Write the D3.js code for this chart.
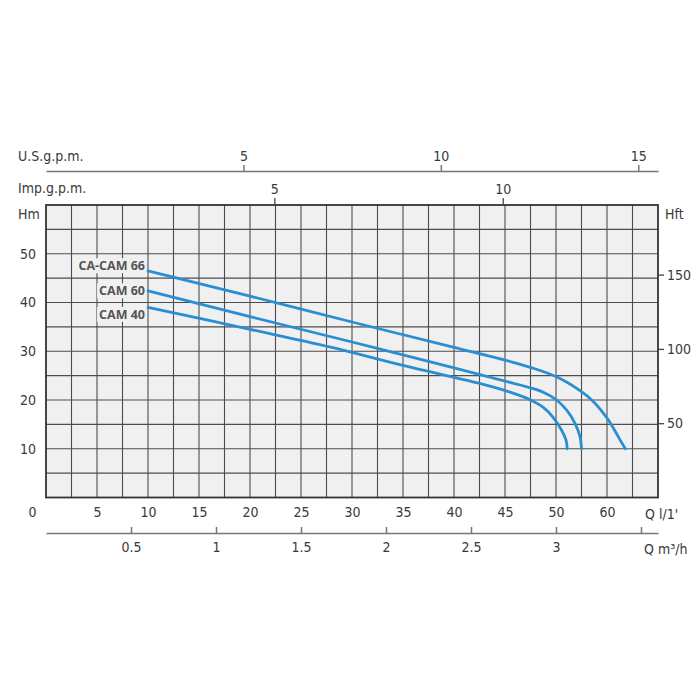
<!DOCTYPE html>
<html>
<head>
<meta charset="utf-8">
<script src="https://cdn.jsdelivr.net/npm/d3@7"></script>
<style>
  html, body { margin: 0; padding: 0; background: #fff; }
  svg { display: block; }
  .tk text, .lbl { font-family: "DejaVu Sans Condensed", "DejaVu Sans", sans-serif; font-stretch: condensed; font-size: 14px; fill: #3a3a3a; }
  .curvelbl { font-family: "Open Sans", "DejaVu Sans", sans-serif; font-weight: 700; font-size: 12.5px; fill: #555; }
</style>
</head>
<body>
<svg id="chart" width="700" height="700"></svg>
<script>
// ---------------- data ----------------
const seriesNames = ["CA-CAM 66", "CAM 60", "CAM 40"];
// [Q l/min, H m]
const camA66 = [[10,46.5],[20,41.3],[30,36.0],[40,30.8],[45.5,27.9],[47.5,26.7],[50,24.8],[52.5,21.7],[53.65,19.7],[55,16.3],[55.8,13.6],[56.45,11.2],[56.8,10]];
const cam60  = [[10,42.4],[20,37.1],[30,31.9],[40,26.6],[45.5,23.6],[47.5,22.5],[48.75,21.6],[50,20.1],[51.05,17.9],[51.86,15.2],[52.35,12.5],[52.5,10]];
const cam40  = [[10,39.0],[20,34.5],[27.8,30.9],[35,27.1],[42.5,23.4],[45.5,21.6],[47.5,20.0],[48.75,18.5],[49.7,16.5],[50.55,13.8],[50.98,11.8],[51.1,10]];
const seriesValues = [camA66, cam60, cam40];

const qTickValues = [0,5,10,15,20,25,30,35,40,45,50,55];
const qTickLabels = ["0","5","10","15","20","25","30","35","40","45","50","60"];
const m3hTickValues = [0.5,1,1.5,2,2.5,3,3.5];
const m3hTickLabels = ["0.5","1","1.5","2","2.5","3",""];
const usTicks = [5,10,15];
const impTicks = [5,10];
const hmTicks = [10,20,30,40,50];
const hftTicks = [50,100,150];

// ---------------- layout ----------------
const L = 46, R = 658, T = 205, B = 497.5;
const svg = d3.select("#chart");

const x = d3.scaleLinear().domain([0, 60]).range([L, R]);            // l/min
const y = d3.scaleLinear().domain([0, 60]).range([B, T]);            // m
const yFt = d3.scaleLinear().domain([0, 60 / 0.3048]).range([B, T]); // ft
const xUS = d3.scaleLinear().domain([0, 15.5]).range([L, R]);
const xImp = d3.scaleLinear().domain([0, 13.4]).range([L, R]);
const xM3 = d3.scaleLinear().domain([0, 3.6]).range([L, R]);

// plot background
svg.append("rect").attr("x", L).attr("y", T).attr("width", R - L).attr("height", B - T)
  .attr("fill", "#f0f0f0");

// grid
const grid = svg.append("g").attr("stroke", "#4d4d4d").attr("stroke-width", 1.1);
grid.selectAll("line.v").data(d3.range(2.5, 60, 2.5)).join("line")
  .attr("x1", d => x(d)).attr("x2", d => x(d)).attr("y1", T).attr("y2", B);
grid.selectAll("line.h").data(d3.range(5, 60, 5)).join("line")
  .attr("x1", L).attr("x2", R).attr("y1", d => y(d)).attr("y2", d => y(d));

// frame
svg.append("rect").attr("x", L).attr("y", T).attr("width", R - L).attr("height", B - T)
  .attr("fill", "none").attr("stroke", "#333").attr("stroke-width", 1.8);

function styleAxis(g, stroke, width) {
  g.attr("class", "tk");
  g.attr("font-family", null).attr("font-size", null);
  g.selectAll("line").attr("stroke", stroke).attr("stroke-width", width);
  g.selectAll("path.domain").attr("stroke", stroke).attr("stroke-width", width);
}

// US gpm axis
const gUS = svg.append("g").attr("transform", `translate(0,171)`)
  .call(d3.axisTop(xUS).tickValues(usTicks).tickSize(6).tickSizeOuter(0).tickPadding(4));
styleAxis(gUS, "#777", 1.5);

// Imp gpm axis
const gImp = svg.append("g").attr("transform", `translate(0,${T})`)
  .call(d3.axisTop(xImp).tickValues(impTicks).tickSize(7).tickSizeOuter(0).tickPadding(4));
styleAxis(gImp, "#444", 1.3);
gImp.select("path.domain").remove();

// left Hm axis
const gHm = svg.append("g").attr("transform", `translate(${L},0)`)
  .call(d3.axisLeft(y).tickValues(hmTicks).tickSize(0).tickPadding(10));
styleAxis(gHm, "#333", 1);
gHm.select("path.domain").remove();

// right Hft axis
const gFt = svg.append("g").attr("transform", `translate(${R},0)`)
  .call(d3.axisRight(yFt).tickValues(hftTicks).tickSize(6).tickPadding(3));
styleAxis(gFt, "#444", 1.3);
gFt.select("path.domain").remove();

// bottom Q l/min axis
const gQ = svg.append("g").attr("transform", `translate(0,${B})`)
  .call(d3.axisBottom(x).tickValues(qTickValues).tickFormat((d, i) => qTickLabels[i]).tickSize(0).tickPadding(10));
styleAxis(gQ, "#333", 1);
gQ.select("path.domain").remove();
gQ.selectAll(".tick text").filter(d => d === 0).attr("dx", -14);

// bottom m3/h axis
const gM3 = svg.append("g").attr("transform", `translate(0,533)`)
  .call(d3.axisBottom(xM3).tickValues(m3hTickValues).tickFormat((d, i) => m3hTickLabels[i]).tickSize(-6).tickSizeOuter(0).tickPadding(9));
styleAxis(gM3, "#777", 1.5);

// unit labels
const units = [
  { t: "U.S.g.p.m.", x: 18, y: 161, a: "start" },
  { t: "Imp.g.p.m.", x: 18, y: 193, a: "start" },
  { t: "Hm", x: 18, y: 219, a: "start" },
  { t: "Hft", x: 665, y: 219, a: "start" },
  { t: "Q l/1'", x: 645, y: 519, a: "start" },
  { t: "Q m\u00B3/h", x: 644, y: 554, a: "start" }
];
svg.selectAll("text.lbl").data(units).join("text").attr("class", "lbl")
  .attr("x", d => d.x).attr("y", d => d.y).attr("text-anchor", d => d.a).text(d => d.t);

// curves
const line = d3.line().x(d => x(d[0])).y(d => y(d[1])).curve(d3.curveCatmullRom.alpha(0.5));
svg.append("g").selectAll("path").data(seriesValues).join("path")
  .attr("d", line).attr("fill", "none").attr("stroke", "#2a8fd1")
  .attr("stroke-width", 2.8).attr("stroke-linecap", "round");

// curve labels with background
const labelDy = [-5, 0, 7];
const lg = svg.append("g");
seriesNames.forEach((name, i) => {
  const s = seriesValues[i][0];
  const t = lg.append("text").attr("class", "curvelbl")
    .attr("x", x(s[0]) - 3).attr("y", y(s[1]) + labelDy[i])
    .attr("text-anchor", "end").attr("dominant-baseline", "central").text(name);
  const bb = t.node().getBBox();
  lg.insert("rect", "text").attr("x", bb.x - 2).attr("y", bb.y + 1).attr("width", bb.width + 3)
    .attr("height", bb.height - 2).attr("fill", "#f0f0f0");
});
</script>
</body>
</html>
